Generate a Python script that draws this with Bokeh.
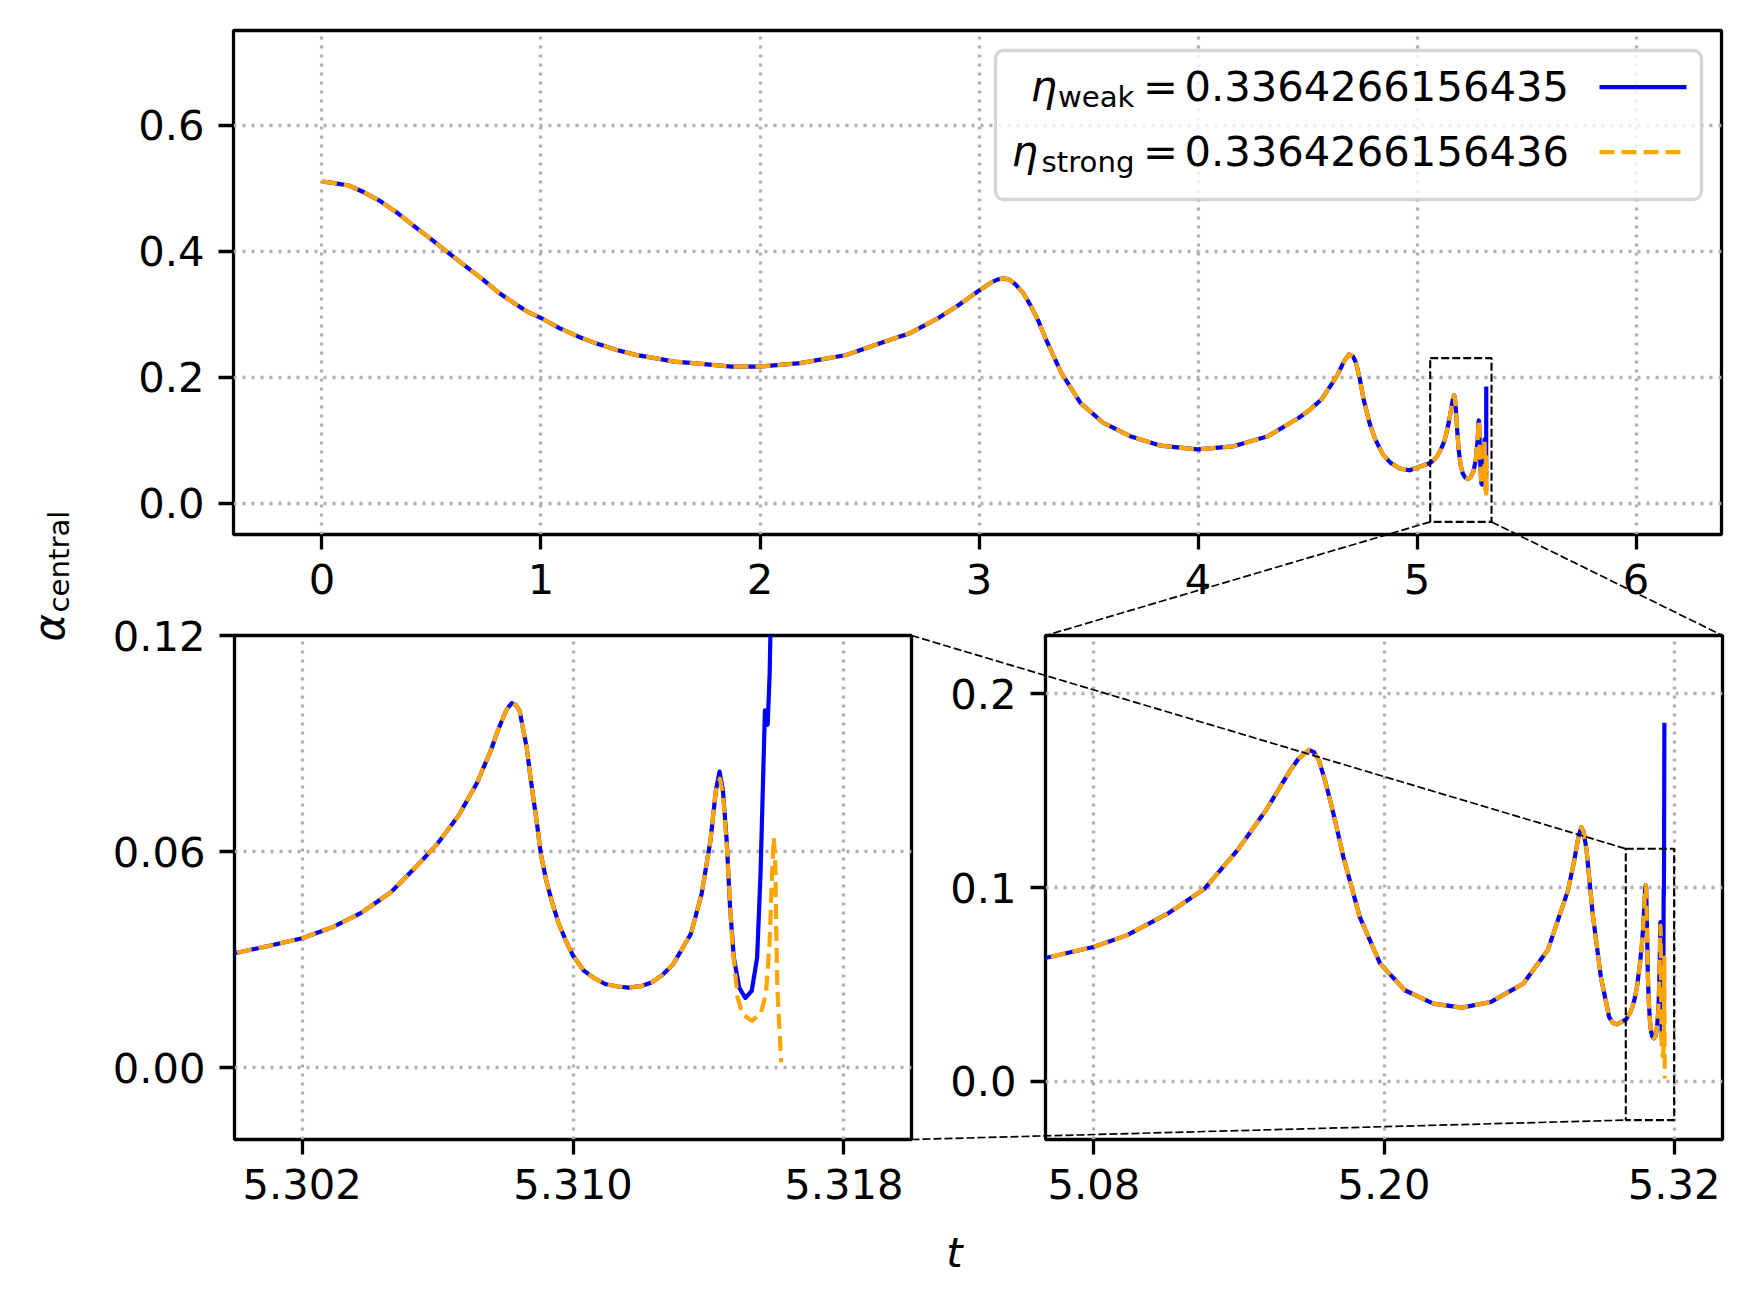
import math
from bokeh.plotting import figure
from bokeh.layouts import row, column
from bokeh.models import (Range1d, FixedTicker, PrintfTickFormatter, BoxAnnotation,
                          Label, Arrow)
from bokeh.embed import file_html
from bokeh.resources import INLINE

# ---------------- data ----------------
T_SHARED = [0.000, 0.035, 0.122, 0.192, 0.262, 0.341, 0.419, 0.498, 0.577, 0.655,
            0.734, 0.804, 0.874, 0.935, 0.998, 1.084, 1.171, 1.258, 1.346, 1.433,
            1.520, 1.608, 1.695, 1.870, 2.000, 2.184, 2.394, 2.568, 2.687, 2.816,
            2.904, 2.996, 3.061, 3.087, 3.113, 3.140, 3.166, 3.201, 3.236, 3.271,
            3.305, 3.375, 3.463, 3.568, 3.690, 3.830, 3.996, 4.162, 4.319, 4.459,
            4.512, 4.564, 4.634, 4.667, 4.689, 4.708, 4.721, 4.739, 4.756, 4.783,
            4.809, 4.844, 4.879, 4.922, 4.966,
            5.0598, 5.0798, 5.0936, 5.1105, 5.1258, 5.1393, 5.1511, 5.1612, 5.1646,
            5.1689, 5.1711, 5.1731, 5.1756, 5.1781, 5.1807, 5.1832, 5.1866, 5.1900,
            5.1984, 5.2086, 5.2204, 5.2322, 5.2441, 5.2576, 5.2677, 5.2761, 5.2787,
            5.2804, 5.2816, 5.2826, 5.2838, 5.2863, 5.2897, 5.2931, 5.2947, 5.2964,
            5.30003, 5.30103, 5.30200, 5.30293, 5.30377, 5.30462, 5.30535, 5.30599,
            5.30662, 5.30715, 5.30757, 5.30778, 5.30794, 5.30805, 5.30819, 5.30831,
            5.30842, 5.30863, 5.30873, 5.30884, 5.30895, 5.30905, 5.30921, 5.30937,
            5.30958, 5.30979, 5.31000, 5.31032, 5.31063, 5.31095, 5.31132, 5.31164,
            5.31200, 5.31232, 5.31264, 5.31296, 5.31348, 5.31380, 5.31406, 5.31422]
A_SHARED = [0.510, 0.509, 0.504, 0.4932, 0.480, 0.4612, 0.440, 0.4188, 0.397, 0.3761,
            0.355, 0.3346, 0.318, 0.3043, 0.294, 0.2776, 0.264, 0.2526, 0.243, 0.2351,
            0.230, 0.2244, 0.222, 0.2165, 0.2165, 0.222, 0.235, 0.256, 0.270, 0.294,
            0.3135, 0.336, 0.351, 0.3549, 0.3565, 0.3543, 0.347, 0.334, 0.313, 0.289,
            0.260, 0.207, 0.159, 0.127, 0.106, 0.091, 0.085, 0.090, 0.106, 0.135,
            0.1485, 0.1644, 0.2015, 0.2254, 0.236, 0.2324, 0.2228, 0.1963, 0.1644, 0.127,
            0.101, 0.0769, 0.0637, 0.0546, 0.0519,
            0.0636, 0.0693, 0.0753, 0.0865, 0.0994, 0.1191, 0.1397, 0.1604, 0.1664,
            0.1710, 0.1698, 0.1655, 0.1552, 0.1432, 0.1294, 0.1157, 0.1002, 0.0847,
            0.0607, 0.0470, 0.0401, 0.0380, 0.0409, 0.0504, 0.0676, 0.0985, 0.1140,
            0.1260, 0.1311, 0.1286, 0.1191, 0.0865, 0.0538, 0.0332, 0.0301, 0.0294,
            0.0318, 0.0338, 0.0359, 0.0391, 0.0431, 0.0487, 0.0556, 0.0621,
            0.0700, 0.0788, 0.0880, 0.0936, 0.0973, 0.0996, 0.1012, 0.1007,
            0.0992, 0.0890, 0.0816, 0.0741, 0.0667, 0.0593, 0.0519, 0.0463,
            0.0399, 0.0352, 0.0311, 0.0269, 0.0248, 0.0232, 0.0225, 0.0222,
            0.0226, 0.0236, 0.0257, 0.0287, 0.0371, 0.0482, 0.0630, 0.0769]
T_WEAK_TAIL = [5.31433, 5.31443, 5.31454, 5.31464, 5.31475, 5.31491, 5.31509, 5.31528,
               5.31544, 5.31554, 5.31562, 5.31567, 5.31575, 5.31581, 5.31596]
A_WEAK_TAIL = [0.0822, 0.0769, 0.0630, 0.0445, 0.0306, 0.0222, 0.0193, 0.0213,
               0.0306, 0.0538, 0.0816, 0.0992, 0.0952, 0.1094, 0.1850]
T_STRONG_TAIL = [5.31434, 5.31443, 5.31454, 5.31470, 5.31486, 5.31501, 5.31528, 5.31554,
                 5.31570, 5.31581, 5.31588, 5.31593, 5.31598, 5.31600, 5.31604, 5.31615]
A_STRONG_TAIL = [0.0802, 0.0760, 0.0620, 0.0352, 0.0195, 0.0148, 0.0130, 0.0148,
                 0.0204, 0.0352, 0.0538, 0.0639, 0.0556, 0.0399, 0.0213, 0.0014]

ETA_WEAK = "0.3364266156435"
ETA_STRONG = "0.3364266156436"
SERIES_SUBS = ["weak", "strong"]

TOP_XLIM = (-0.404, 6.39)
TOP_YLIM = (-0.05, 0.75)
BL_XLIM = (5.300, 5.320)
BL_YLIM = (-0.02, 0.12)
BR_XLIM = (5.06, 5.34)
BR_YLIM = (-0.03, 0.23)

TOP_XTICKS = [0, 1, 2, 3, 4, 5, 6]
TOP_YTICKS = [0.0, 0.2, 0.4, 0.6]
BL_XTICKS = [5.302, 5.310, 5.318]
BL_YTICKS = [0.00, 0.06, 0.12]
BR_XTICKS = [5.08, 5.20, 5.32]
BR_YTICKS = [0.0, 0.1, 0.2]

# ---------------- layout geometry (page pixels) ----------------
FONT = "DejaVu Sans"
FS_PX = 41.7
SUB_PX = 29.2
FS = f"{FS_PX}px"
SUB_FS = f"{SUB_PX}px"
LW = 4.2
SPINE = 3.3
PAGE_W, PAGE_H = 1741, 1294
SPLIT_Y = 611          # boundary between the top canvas and the bottom row

TOP_FRAME = (233, 30, 1721, 534)     # L, T, R, B
BL_FRAME = (234, 635, 911, 1139)
BR_FRAME = (1045, 635, 1722, 1139)


def to_data(px, py, frame, xr, yr):
    L, T, R, B = frame
    x = xr[0] + (px - L) / (R - L) * (xr[1] - xr[0])
    y = yr[1] - (py - T) / (B - T) * (yr[1] - yr[0])
    return x, y


def to_page(x, y, frame, xr, yr):
    L, T, R, B = frame
    px = L + (x - xr[0]) / (xr[1] - xr[0]) * (R - L)
    py = T + (yr[1] - y) / (yr[1] - yr[0]) * (B - T)
    return px, py


def anchor(baseline, size_px):
    # Label anchors are placed on the middle of the em box
    return baseline - 0.346 * size_px


def make_panel(width, height, borders, xr, yr, xticks, yticks, xfmt, yfmt):
    l, r, t, b = borders
    p = figure(width=width, height=height, x_range=Range1d(*xr), y_range=Range1d(*yr),
               output_backend="svg", toolbar_location=None, frame_align=False,
               min_border_left=l, min_border_right=r, min_border_top=t, min_border_bottom=b)
    p.background_fill_color = "white"
    p.border_fill_color = "white"
    p.outline_line_color = "black"
    p.outline_line_width = SPINE
    for ax, ticks, fmt in ((p.xaxis[0], xticks, xfmt), (p.yaxis[0], yticks, yfmt)):
        ax.ticker = FixedTicker(ticks=ticks)
        ax.formatter = PrintfTickFormatter(format=fmt)
        ax.axis_line_color = None
        ax.major_tick_out = 15
        ax.major_tick_in = 0
        ax.major_tick_line_width = SPINE
        ax.major_tick_line_color = "black"
        ax.minor_tick_line_color = None
        ax.major_label_text_font = FONT
        ax.major_label_text_font_size = FS
        ax.major_label_text_color = "black"
        ax.major_label_standoff = 14
    p.xgrid.ticker = FixedTicker(ticks=xticks)
    p.ygrid.ticker = FixedTicker(ticks=yticks)
    p.grid.grid_line_color = "#b0b0b0"
    p.grid.grid_line_width = SPINE
    p.grid.grid_line_dash = "3 6"
    t_blue = T_SHARED + T_WEAK_TAIL
    a_blue = A_SHARED + A_WEAK_TAIL
    t_orange = T_SHARED + T_STRONG_TAIL
    a_orange = A_SHARED + A_STRONG_TAIL
    p.line(t_blue, a_blue, line_color="blue", line_width=LW, line_join="round")
    p.line(t_orange, a_orange, line_color="orange", line_width=LW, line_dash="15 7",
           line_join="round")
    return p


def zoom_box(p, xr, yr):
    p.add_layout(BoxAnnotation(left=xr[0], right=xr[1], bottom=yr[0], top=yr[1],
                               fill_color=None, fill_alpha=0, line_color="black",
                               line_alpha=1.0, line_width=2.1, line_dash="8 3"))


# ---------------- panels ----------------
bottom_h = PAGE_H - SPLIT_Y
top = make_panel(PAGE_W, SPLIT_Y, (233, 20, 30, SPLIT_Y - TOP_FRAME[3]), TOP_XLIM, TOP_YLIM,
                 TOP_XTICKS, TOP_YTICKS, "%d", "%.1f")
bl = make_panel(930, bottom_h, (234, 19, BL_FRAME[1] - SPLIT_Y, PAGE_H - BL_FRAME[3]),
                BL_XLIM, BL_YLIM, BL_XTICKS, BL_YTICKS, "%.3f", "%.2f")
br = make_panel(811, bottom_h, (115, 19, BR_FRAME[1] - SPLIT_Y, PAGE_H - BR_FRAME[3]),
                BR_XLIM, BR_YLIM, BR_XTICKS, BR_YTICKS, "%.2f", "%.1f")

# zoom rectangles
zoom_box(top, BR_XLIM, BR_YLIM)
zoom_box(br, BL_XLIM, BL_YLIM)

# ---------------- legend (top panel) ----------------
def tdata(px, py):
    return to_data(px, py, TOP_FRAME, TOP_XLIM, TOP_YLIM)

bx0, by0 = tdata(995, 199)
bx1, by1 = tdata(1701, 50)
top.add_layout(BoxAnnotation(left=bx0, right=bx1, bottom=by0, top=by1,
                             fill_color="white", fill_alpha=0.8,
                             line_color="#cccccc", line_alpha=0.8, line_width=SPINE,
                             border_radius=8, level="overlay"))

rows = [(ETA_WEAK, SERIES_SUBS[0], 100, 1030, "blue", None),
        (ETA_STRONG, SERIES_SUBS[1], 165, 1011, "orange", "15 7")]
for num, sub, base, eta_x, col, dash in rows:
    x, y = tdata(eta_x, anchor(base, FS_PX))
    top.add_layout(Label(x=x, y=y, text="η", text_font=FONT, text_font_size=FS,
                         text_font_style="italic", text_align="left", text_color="black",
                         text_baseline="alphabetic", level="overlay"))
    x, y = tdata(1134, anchor(base + 7, SUB_PX))
    top.add_layout(Label(x=x, y=y, text=sub, text_font=FONT, text_font_size=SUB_FS,
                         text_align="right", text_baseline="alphabetic", text_color="black",
                         level="overlay"))
    x, y = tdata(1160, anchor(base, FS_PX))
    top.add_layout(Label(x=x, y=y, text="=", text_font=FONT, text_font_size=FS,
                         text_align="center", text_baseline="alphabetic", text_color="black",
                         level="overlay"))
    x, y = tdata(1568.5, anchor(base, FS_PX))
    top.add_layout(Label(x=x, y=y, text=num, text_font=FONT, text_font_size=FS,
                         text_align="right", text_baseline="alphabetic", text_color="black",
                         level="overlay"))
    sx0, sy = tdata(1599, base - 13.3)
    sx1, _ = tdata(1686, base - 13.3)
    arr = Arrow(start=None, end=None, x_start=sx0, y_start=sy, x_end=sx1, y_end=sy,
                line_color=col, line_width=LW, level="overlay")
    if dash:
        arr.line_dash = dash
    top.add_layout(arr)

# ---------------- overlay: connectors and shared axis labels ----------------
ov = figure(width=PAGE_W, height=PAGE_H, x_range=Range1d(0, PAGE_W),
            y_range=Range1d(PAGE_H, 0), output_backend="svg", toolbar_location=None,
            min_border=0, min_border_left=0, min_border_right=0, min_border_top=0,
            min_border_bottom=0, frame_align=False,
            x_axis_location=None, y_axis_location=None,
            styles={"position": "absolute", "top": "0px", "left": "0px",
                    "pointer-events": "none"})
ov.outline_line_color = None
ov.grid.visible = False
ov.background_fill_alpha = 0
ov.border_fill_alpha = 0


def seg(p0, p1):
    ov.add_layout(Arrow(start=None, end=None, x_start=p0[0], y_start=p0[1],
                        x_end=p1[0], y_end=p1[1], line_color="black", line_width=1.7,
                        line_dash="8 3"))


rect_ll = to_page(BR_XLIM[0], BR_YLIM[0], TOP_FRAME, TOP_XLIM, TOP_YLIM)
rect_lr = to_page(BR_XLIM[1], BR_YLIM[0], TOP_FRAME, TOP_XLIM, TOP_YLIM)
br_tl = to_page(BR_XLIM[0], BR_YLIM[1], BR_FRAME, BR_XLIM, BR_YLIM)
br_tr = to_page(BR_XLIM[1], BR_YLIM[1], BR_FRAME, BR_XLIM, BR_YLIM)
seg(rect_ll, br_tl)
seg(rect_lr, br_tr)

brect_tl = to_page(BL_XLIM[0], BL_YLIM[1], BR_FRAME, BR_XLIM, BR_YLIM)
brect_bl = to_page(BL_XLIM[0], BL_YLIM[0], BR_FRAME, BR_XLIM, BR_YLIM)
bl_tr = to_page(BL_XLIM[1], BL_YLIM[1], BL_FRAME, BL_XLIM, BL_YLIM)
bl_br = to_page(BL_XLIM[1], BL_YLIM[0], BL_FRAME, BL_XLIM, BL_YLIM)
seg(bl_tr, brect_tl)
seg(bl_br, brect_bl)

ov.add_layout(Label(x=anchor(63.5, FS_PX), y=641, text="α", text_font=FONT,
                    text_font_size=FS, text_font_style="italic", angle=math.pi / 2,
                    text_align="left", text_baseline="alphabetic", text_color="black"))
ov.add_layout(Label(x=anchor(68.5, SUB_PX), y=612, text="central", text_font=FONT,
                    text_font_size=SUB_FS, angle=math.pi / 2, text_color="black",
                    text_align="left", text_baseline="alphabetic"))
ov.add_layout(Label(x=954, y=anchor(1266, FS_PX), text="t", text_font=FONT,
                    text_font_size=FS, text_font_style="italic", text_color="black",
                    text_align="center", text_baseline="alphabetic"))

layout = column(top, row(bl, br), ov)

open("out.html", "w").write(file_html(layout, INLINE))
